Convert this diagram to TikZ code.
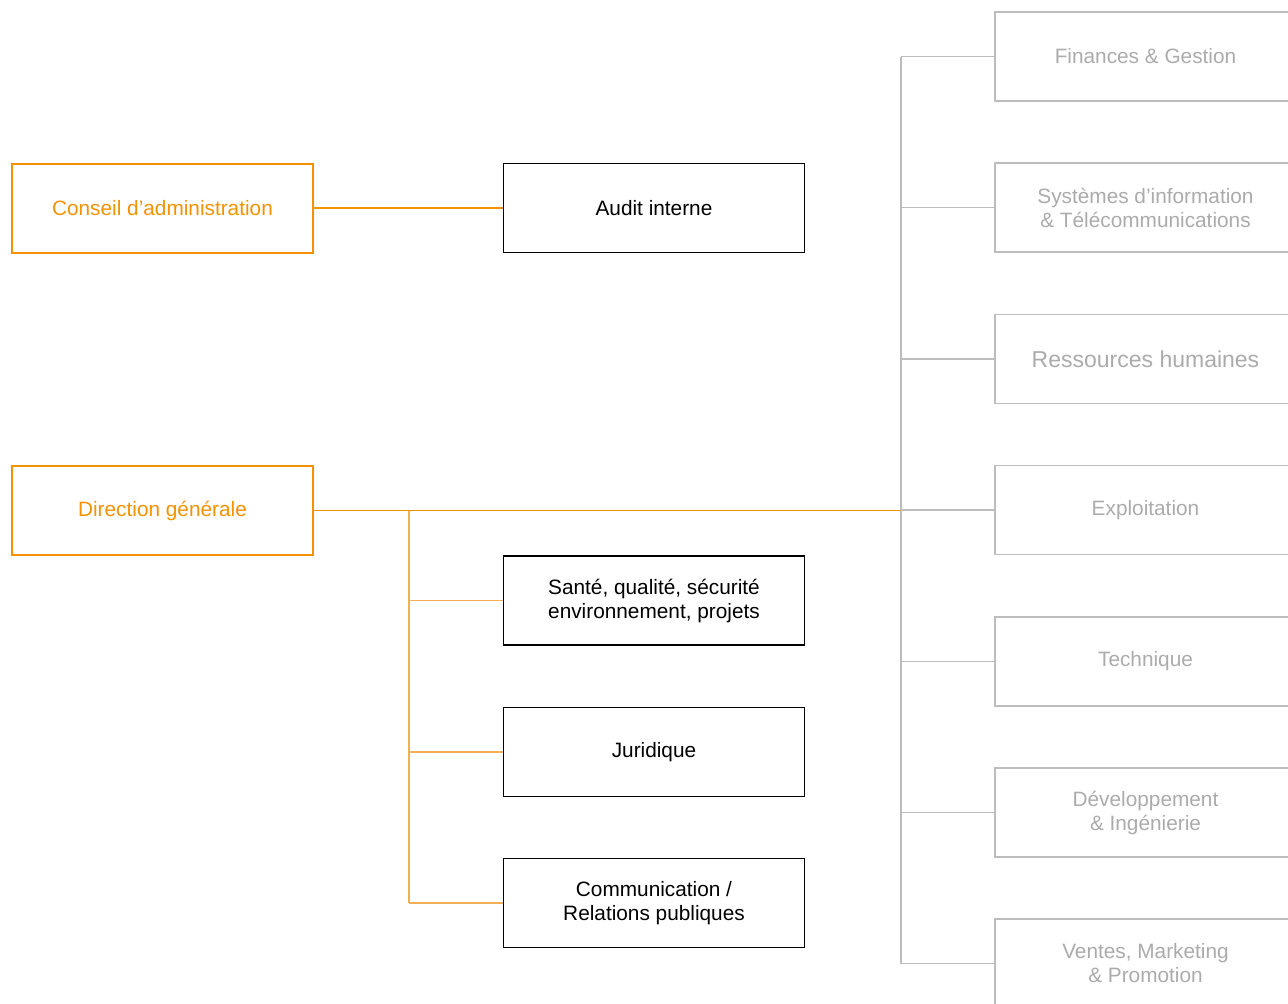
\documentclass[tikz,border=0pt]{standalone}
\usepackage{fontspec}
\setmainfont{Liberation Sans}
\definecolor{org}{HTML}{F39200}
\definecolor{orglight}{HTML}{F6AE52}
\definecolor{gline}{HTML}{BDBDBD}
\definecolor{gtext}{HTML}{ABABAB}
\begin{document}
\begin{tikzpicture}[x=1pt,y=-1pt,
  box/.style={draw, rectangle, minimum width=301pt, minimum height=89pt, inner sep=0pt, align=center, font=\fontsize{20.8}{24}\selectfont},
  obox/.style={box, draw=org, line width=2pt, text=org},
  bbox/.style={box, draw=black, line width=1.3pt, text=black},
  gbox/.style={box, draw=gline, line width=1.3pt, text=gtext},
  oline/.style={draw=org, line width=1.8pt},
  olight/.style={draw=orglight, line width=1.4pt},
  gl/.style={draw=gline, line width=1.4pt}]
\useasboundingbox (0,0) rectangle (1288,1004);
\clip (0,0) rectangle (1288,1004);
% left column
\node[obox] (ca) at (162.5,208) {Conseil d’administration};
\node[obox] (dg) at (162.5,510.5) {Direction générale};
% middle column
\node[bbox] (audit) at (654,208) {Audit interne};
\node[bbox] (sante) at (654,600.5) {Santé, qualité, sécurité\\environnement, projets};
\node[bbox] (jur) at (654,752) {Juridique};
\node[bbox] (com) at (654,903) {Communication /\\Relations publiques};
% right column
\node[gbox] (g1) at (1145.5,56.5) {Finances \& Gestion};
\node[gbox] (g2) at (1145.5,207.5) {Systèmes d’information\\\& Télécommunications};
\node[gbox, font=\fontsize{23}{27}\selectfont] (g3) at (1145.5,359) {Ressources humaines};
\node[gbox] (g4) at (1145.5,510) {Exploitation};
\node[gbox] (g5) at (1145.5,661.5) {Technique};
\node[gbox] (g6) at (1145.5,812.5) {Développement\\\& Ingénierie};
\node[gbox] (g7) at (1145.5,963.5) {Ventes, Marketing\\\& Promotion};
% buses
\coordinate (gbus) at (901,0);
\coordinate (obus) at (409,0);
% grey connectors
\draw[gl] (g1.west -| gbus) -- (g7.west -| gbus);
\foreach \g in {g1,g2,g3,g4,g5,g6,g7}
  \draw[gl] (\g.west) -- (\g.west -| gbus);
% orange connectors
\draw[olight] (dg.east -| obus) -- (com.west -| obus);
\foreach \m in {sante,jur,com}
  \draw[olight] (\m.west) -- (\m.west -| obus);
\draw[oline] (ca.east) -- (audit.west);
\draw[oline] (dg.east) -- (dg.east -| gbus);
\end{tikzpicture}
\end{document}
